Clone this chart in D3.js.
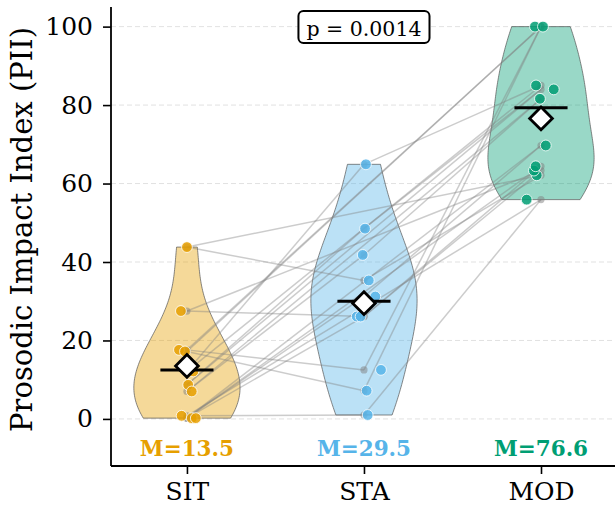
<!DOCTYPE html>
<html><head><meta charset="utf-8">
<script src="https://cdn.jsdelivr.net/npm/d3@7"></script>
<style>body{margin:0;background:#fff}svg{display:block}</style>
</head><body><svg id="c" width="615" height="506"></svg>
<script>
const categories = ["SIT","STA","MOD"];
const colors = ["#E69F00","#56B4E9","#009E73"];
// per-subject values (subject i across conditions)
const sitValues = [43.8, 27.5, 17.6, 17.2, 0.8, 12.1, 8.7, 7.0, 0.2, 0.2];
const staValues = [35.3, 26.1, 12.5, 7.2, 1.0, 64.9, 48.5, 41.8, 31.2, 26.1];
const modValues = [62.1, 63.3, 100, 100, 55.9, 85.0, 84.0, 81.6, 69.7, 64.4];
// horizontal jitter of colored dots (category units)
const sitJitter = [0.0, -0.034, -0.045, -0.011, -0.03, 0.036, 0.007, 0.027, 0.027, 0.05];
const staJitter = [0.027, -0.041, 0.096, 0.015, 0.021, 0.011, 0.006, -0.007, 0.064, -0.019];
const modJitter = [-0.024, -0.04, -0.034, 0.011, -0.081, -0.028, 0.072, -0.006, 0.027, -0.03];
const means = [13.5, 29.5, 76.6];
const medians = [12.5, 30.0, 79.3];
const yTicks = [0, 20, 40, 60, 80, 100];
const pLabel = "p = 0.0014";
const yLabel = "Prosodic Impact Index (PII)";

const groups = [sitValues, staValues, modValues];
const jitters = [sitJitter, staJitter, modJitter];

const svg = d3.select("#c");
const font = "DejaVu Serif";
const x = d3.scaleLinear().domain([-0.429, 2.418]).range([111, 615]);
const y = d3.scaleLinear().domain([-12, 105]).range([466, 7]);

// grid
svg.append("g").selectAll("line").data(yTicks).join("line")
  .attr("x1", 111).attr("x2", 615)
  .attr("y1", d => y(d)).attr("y2", d => y(d))
  .attr("stroke", "#d9d9d9").attr("stroke-width", 0.8).attr("stroke-dasharray", "5,3");

// violins
function kde(vals) {
  const n = vals.length, m = d3.mean(vals);
  const sd = Math.sqrt(d3.sum(vals, v => (v - m) ** 2) / (n - 1));
  const bw = sd * Math.pow(n, -0.2);
  const lo = d3.min(vals), hi = d3.max(vals);
  const pts = d3.range(100).map(i => lo + (hi - lo) * i / 99);
  return pts.map(p => [p, d3.sum(vals, v => Math.exp(-0.5 * ((p - v) / bw) ** 2))]);
}
groups.forEach((vals, i) => {
  const dens = kde(vals);
  const mx = d3.max(dens, d => d[1]);
  const right = dens.map(d => [x(i + 0.3 * d[1] / mx), y(d[0])]);
  const left = dens.slice().reverse().map(d => [x(i - 0.3 * d[1] / mx), y(d[0])]);
  svg.append("path").attr("d", d3.line()(right.concat(left)) + "Z")
    .attr("fill", colors[i]).attr("fill-opacity", 0.4)
    .attr("stroke", "#555").attr("stroke-opacity", 0.7).attr("stroke-width", 1);
});

// paired lines: every pair of conditions for each subject
const pairs = [[0, 1], [1, 2], [0, 2]];
const segs = [];
d3.range(sitValues.length).forEach(s => pairs.forEach(([a, b]) => segs.push({s, a, b})));
svg.append("g").selectAll("line").data(segs).join("line")
  .attr("x1", d => x(d.a)).attr("y1", d => y(groups[d.a][d.s]))
  .attr("x2", d => x(d.b)).attr("y2", d => y(groups[d.b][d.s]))
  .attr("stroke", "#808080").attr("stroke-opacity", 0.4).attr("stroke-width", 1.5);

// gray center dots
groups.forEach((vals, i) => {
  svg.append("g").selectAll("circle").data(vals).join("circle")
    .attr("cx", x(i)).attr("cy", d => y(d)).attr("r", 3.6)
    .attr("fill", "#808080").attr("fill-opacity", 0.5);
});
// colored dots
groups.forEach((vals, i) => {
  svg.append("g").selectAll("circle").data(vals).join("circle")
    .attr("cx", (d, k) => x(i + jitters[i][k])).attr("cy", d => y(d)).attr("r", 5.4)
    .attr("fill", colors[i]).attr("fill-opacity", 0.85)
    .attr("stroke", "#fff").attr("stroke-width", 0.8);
});

// medians
svg.append("g").selectAll("line").data(medians).join("line")
  .attr("x1", (d, i) => x(i - 0.15)).attr("x2", (d, i) => x(i + 0.15))
  .attr("y1", d => y(d)).attr("y2", d => y(d))
  .attr("stroke", "#000").attr("stroke-width", 3);
// mean diamonds
svg.append("g").selectAll("path").data(means).join("path")
  .attr("transform", (d, i) => `translate(${x(i)},${y(d)})`)
  .attr("d", d3.symbol(d3.symbolDiamond2, 330)())
  .attr("fill", "#fff").attr("stroke", "#000").attr("stroke-width", 2.8).attr("stroke-linejoin", "miter");

// mean labels
svg.append("g").selectAll("text").data(means).join("text")
  .attr("x", (d, i) => x(i)).attr("y", 456)
  .attr("text-anchor", "middle").attr("font-family", font).attr("font-weight", "bold")
  .attr("font-size", 21.5).attr("fill", (d, i) => colors[i])
  .text(d => "M=" + d.toFixed(1));

// axes
const yAxis = svg.append("g").attr("transform", "translate(111,0)")
  .call(d3.axisLeft(y).tickValues(yTicks).tickSize(8).tickPadding(10));
const xAxis = svg.append("g").attr("transform", "translate(0,466)")
  .call(d3.axisBottom(x).tickValues([0, 1, 2]).tickFormat((d, i) => categories[i]).tickSize(8).tickPadding(8));
[yAxis, xAxis].forEach(a => {
  a.select(".domain").attr("stroke", "#000").attr("stroke-width", 1.8);
  a.selectAll(".tick line").attr("stroke", "#000").attr("stroke-width", 1.6);
  a.selectAll("text").attr("font-family", font).attr("font-size", 25).attr("fill", "#000");
});
yAxis.select(".domain").attr("d", "M0,7V466");
xAxis.select(".domain").attr("d", "M111,0H615");

svg.append("text").attr("transform", `translate(32,${(7 + 466) / 2 - 7}) rotate(-90)`)
  .attr("text-anchor", "middle").attr("font-family", font).attr("font-size", 29).text(yLabel);

// p box
const pg = svg.append("g");
const pt = pg.append("text").attr("x", x(1)).attr("y", 36).attr("text-anchor", "middle")
  .attr("font-family", font).attr("font-size", 20.5).text(pLabel);
const bb = pt.node().getBBox();
pg.insert("rect", "text")
  .attr("x", bb.x - 8).attr("y", 11).attr("width", bb.width + 16).attr("height", 32)
  .attr("rx", 5).attr("fill", "#fff").attr("stroke", "#000").attr("stroke-width", 2);
</script></body></html>
